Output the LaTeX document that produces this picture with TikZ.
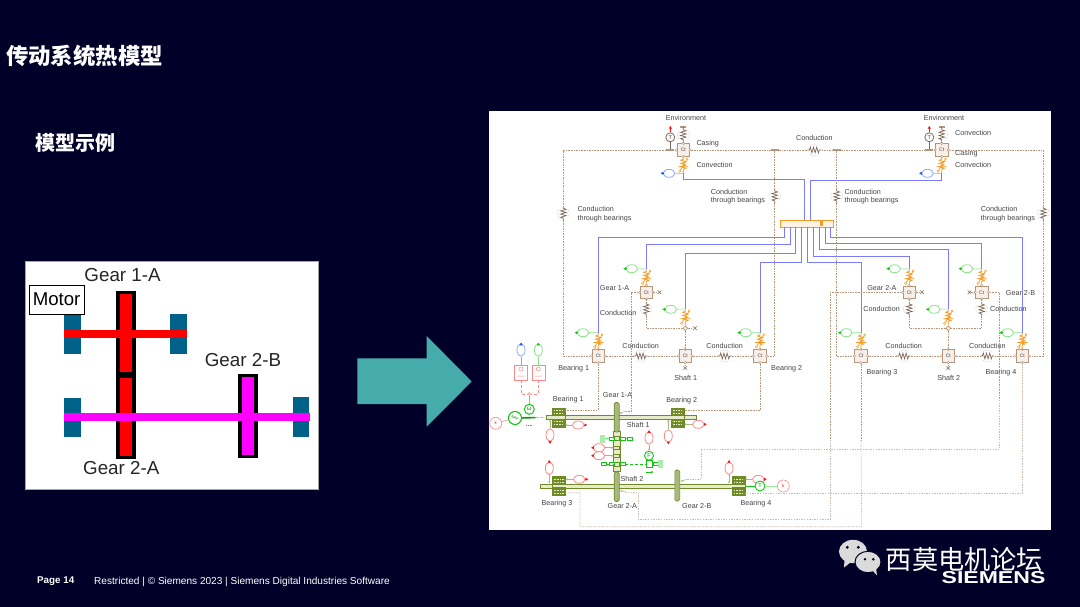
\documentclass[tikz,border=0pt]{standalone}
\usepackage{fontspec}
\setmainfont{Liberation Sans}
\newfontfamily\cjkfont{Noto Sans CJK SC}
\usetikzlibrary{arrows.meta,calc,shapes.geometric,shapes.misc}
\definecolor{slidebg}{HTML}{000028}
\definecolor{arrowteal}{HTML}{45ABAB}
\definecolor{bearingblue}{HTML}{006189}
\definecolor{gearred}{RGB}{255,0,0}
\definecolor{gearmagenta}{RGB}{255,0,255}
\definecolor{condbrown}{HTML}{B5957C}
\definecolor{condfaint}{HTML}{CDBCAE}
\definecolor{cellfill}{HTML}{F8F0E8}
\definecolor{heatblue}{HTML}{7C7CFA}
\definecolor{convorange}{HTML}{F59A23}
\definecolor{mecholive}{HTML}{6F8A26}
\definecolor{mechpale}{HTML}{E6ECCB}
\definecolor{flowgreen}{HTML}{12C912}
\definecolor{flowblue}{HTML}{1A55FF}
\definecolor{flowred}{HTML}{FF1111}
\definecolor{labelgrey}{HTML}{444444}
\tikzset{
	lbl/.style={text=labelgrey,font=\fontsize{7.2}{8.4}\selectfont,inner sep=0,align=left},
	cellnode/.style={draw=condbrown,fill=cellfill,minimum size=12.5,inner sep=0,line width=0.7,font=\fontsize{5}{5}\selectfont,text=labelgrey},
	portnode/.style={circle,draw=condbrown,fill=white,minimum size=2.6,inner sep=0,line width=0.4},
	resnode/.style={minimum width=14,minimum height=6,inner sep=0},
	convnode/.style={minimum width=8,minimum height=16,inner sep=0},
	teebar/.style={fill=condbrown,minimum width=8,minimum height=2.2,inner sep=0},
	capbar/.style={fill=condbrown,minimum width=6,minimum height=1.6,inner sep=0},
	crossend/.style={cross out,draw=condbrown!70!black,minimum size=3,inner sep=0,line width=0.6},
	junct/.style={diamond,draw=condbrown,fill=cellfill,minimum size=5,inner sep=0,line width=0.6},
	condline/.style={condbrown,line width=0.5,dash pattern=on 1.6 off 1},
	condpale/.style={condfaint,line width=0.7,dash pattern=on 1.4 off 1.2},
	heatline/.style={heatblue,line width=0.9},
	ovalh/.style={ellipse,fill=white,minimum width=11.5,minimum height=8,inner sep=0,line width=0.8},
	ovalv/.style={ellipse,fill=white,minimum width=8,minimum height=12.5,inner sep=0,line width=0.8},
	tipline/.style={line width=0.6,-{Latex[length=2.8,width=3.4]}},
	stubline/.style={mecholive!60,line width=0.5,-{Latex[length=2,width=2.4]}},
	shaftbody/.style={draw=mecholive,fill=mechpale,minimum height=4,inner sep=0,line width=0.9},
	gearbody/.style={draw=mecholive,fill=mecholive!60,rounded corners=1.5,minimum width=5,minimum height=29.5,inner sep=0,line width=0.6},
	brgbody/.style={draw=mecholive,fill=mecholive,minimum width=13,minimum height=19,inner sep=0},
	linkbox/.style={draw=mecholive,fill=mechpale,minimum width=6,minimum height=3.6,inner sep=0,line width=0.5},
	greenbox/.style={draw=flowgreen,fill=white,minimum width=5,minimum height=3.2,inner sep=0,line width=0.6},
	hatchbar/.style={fill=flowgreen!35,minimum width=5,minimum height=8,inner sep=0},
	greenring/.style={circle,draw=flowgreen,fill=white,inner sep=0,line width=0.9,text=flowgreen!70!black},
	redring/.style={circle,draw=flowred!50,fill=white,inner sep=0,line width=0.6,minimum size=12,text=flowred,font=\fontsize{4.5}{5}\selectfont},
	redbox/.style={draw=flowred!50,fill=white,minimum width=13,minimum height=15,inner sep=0,line width=0.6},
	cjktitle/.style={text=white,inner sep=0,font=\cjkfont\bfseries},
}
\def\ctcell(#1)(#2){\node[cellnode] (#1) at (#2) {Ct};
	\foreach \a in {north,south,east,west} {\node[portnode] (#1-\a) at (#1.\a) {};}}
\def\thermres(#1)(#2)(#3){\node[resnode,rotate=#3] (#1) at (#2) {};
	\begin{scope}[shift={(#2)},rotate=#3]
		\draw[condbrown!70!black,line width=0.7] (-7,0) -- (-5,0) -- (-4,-2.8) -- (-2.4,2.8) -- (-0.8,-2.8) -- (0.8,2.8) -- (2.4,-2.8) -- (4,2.8) -- (5,0) -- (7,0);
		\draw[condbrown,line width=0.4,densely dotted] (-4,-4.6) .. controls (0,-6.4) .. (4,-4.6) (-4,4.6) .. controls (0,6.4) .. (4,4.6);
	\end{scope}}
\def\convector(#1)(#2){\node[convnode] (#1) at (#2) {};
	\begin{scope}[shift={(#2)}]
		\draw[convorange,line width=0.8] (0,-8) -- (0,-6) -- (-2.5,-5) -- (2.5,-3.4) -- (-2.5,-1.8) -- (2.5,-0.2) -- (-2.5,1.4) -- (2.5,3) -- (0,4) -- (0,8);
		\draw[convorange,line width=0.7] (-5,1.5) -- (5,1.5) (-3.6,6) -- (4,-6.4);
		\draw[convorange,line width=0.4,fill=white] (-3.6,6) circle (1.3) (3.8,-6.4) circle (1);
	\end{scope}}
\def\flowoval(#1)(#2)(#3)(#4)(#5){\node[#3,draw=#5!50] (#1) at (#2) {};
	\draw[#5,tipline] (#1) -- ++(#4);}
\def\bearingblock(#1)(#2){\node[brgbody] (#1) at (#2) {};
	\begin{scope}[shift={(#2)}]
		\fill[mechpale] (-6.5,-1.3) rectangle (6.5,1.3);
		\draw[mechpale,line width=0.9,dash pattern=on 1.6 off 1] (-4.6,-7) -- (4.6,-7) (-4.6,7) -- (4.6,7) (-4.6,-4) -- (4.6,-4) (-4.6,4) -- (4.6,4);
	\end{scope}}

\begin{document}
\begin{tikzpicture}[x=1pt,y=-1pt]
	\useasboundingbox (0,0) rectangle (1080,607);
	\fill[slidebg] (0,0) rectangle (1080,607);

	%%%%% SLIDE TEXT %%%%%
	\node[cjktitle,font=\cjkfont\bfseries\fontsize{22.4}{24}\selectfont] (slideTitle) at (84.5,56) {传动系统热模型};
	\node[cjktitle,font=\cjkfont\bfseries\fontsize{20}{22}\selectfont] (slideSub) at (75,143) {模型示例};
	\node[text=white,inner sep=0,anchor=west,font=\bfseries\fontsize{9.8}{11}\selectfont] (pageNo) at (37,581.5) {Page 14};
	\node[text=white,inner sep=0,anchor=west,font=\fontsize{10.08}{11}\selectfont] (footNote) at (94,581.5) {Restricted | © Siemens 2023 | Siemens Digital Industries Software};

	%%%%% GEARBOX SKETCH %%%%%
	\fill[white,draw=black!35,line width=0.6] (25.3,261.7) rectangle (318.3,489);
	\fill[bearingblue] (64.3,314.3) rectangle (80.7,354.3);
	\fill[bearingblue] (170.3,314.3) rectangle (186.7,354.3);
	\fill[bearingblue] (64.3,397.7) rectangle (80.7,437.3);
	\fill[bearingblue] (293.3,396.7) rectangle (309.3,437.3);

	\fill[black] (116,290.7) rectangle (135.7,375);
	\fill[black] (116,375) rectangle (135.7,459);
	\fill[black] (238.3,373.7) rectangle (258,458.3);
	\fill[gearred] (119.7,294.3) rectangle (132,372.3);
	\fill[gearred] (119.7,378.3) rectangle (132,456);
	\fill[gearmagenta] (242.3,377.3) rectangle (254.3,455);
	\fill[gearred] (64.3,330.3) rectangle (186.7,338.3);
	\fill[gearmagenta] (64.3,413.3) rectangle (310.3,420.7);

	\node[draw=black,fill=white,line width=0.7,minimum width=55.3,minimum height=29.3,inner sep=0,font=\fontsize{18.6}{20}\selectfont] (motorTag) at (56.6,299.6) {Motor};
	\foreach \nm/\pos/\txt in {sketchGearA/{122.6,275.5}/Gear 1-A,sketchGearB/{243,360}/Gear 2-B,sketchGearC/{121.3,468.3}/Gear 2-A} {
		\node[inner sep=0,text=black!85,font=\fontsize{18.8}{20}\selectfont] (\nm) at (\pos) {\txt};
	}

	%%%%% ARROW %%%%%
	\fill[arrowteal] (357.3,358.3) -- (426.7,358.3) -- (426.7,336) -- (471.7,381.5) -- (426.7,426.7) -- (426.7,404) -- (357.3,404) -- cycle;

	%%%%% THERMAL PANEL %%%%%
	\fill[white] (489,111.5) rectangle (1051,529.5);

	\foreach \nm/\pos in {ctCasingL/{683.3,150},ctCasingR/{941.7,150},ctGearA/{646.3,292.3},ctGearB/{909.3,292.3},ctGearC/{981.7,292.3},ctBearA/{598.3,356},ctBearB/{760,356},ctBearC/{861,356},ctBearD/{1022.3,356},ctShaftA/{685.3,356},ctShaftB/{948.3,356}} {
		\ctcell(\nm)(\pos)
	}
	\foreach \nm/\pos/\ang in {resCasingL/{683.3,134.7}/90,resCasingR/{941.7,134.7}/90,resTop/{814.3,150}/0,resThruA/{563.3,213.3}/90,resThruB/{774.7,196}/90,resThruC/{836.7,196}/90,resThruD/{1043.3,213.3}/90,resGearA/{646.3,309}/90,resGearB/{909.3,309}/90,resGearC/{981.7,309}/90,resRowA/{640.7,356}/0,resRowB/{724.7,356}/0,resRowC/{903.7,356}/0,resRowD/{987.3,356}/0} {
		\thermres(\nm)(\pos)(\ang)
	}
	\foreach \nm/\pos in {convCasingL/{683.3,165.2},convCasingR/{941.7,165.2},convGearA/{646.3,277.3},convGearB/{909.3,277.3},convGearC/{981.7,277.3},convShaftA/{685.3,317.3},convShaftB/{948.3,317.3},convBearA/{598.3,341},convBearB/{760,341},convBearC/{861,341},convBearD/{1022.3,341}} {
		\convector(\nm)(\pos)
	}
	\foreach \nm/\pos/\conv/\anc/\col in {ovCasingL/{669,173.3}/convCasingL/south/flowblue,ovCasingR/{927.5,173.3}/convCasingR/south/flowblue,ovGearA/{631.7,268.7}/convGearA/north/flowgreen,ovGearB/{894.7,268.7}/convGearB/north/flowgreen,ovGearC/{967,268.7}/convGearC/north/flowgreen,ovShaftA/{670.7,309.3}/convShaftA/north/flowgreen,ovShaftB/{934.3,309.3}/convShaftB/north/flowgreen,ovBearA/{583,332.7}/convBearA/north/flowgreen,ovBearB/{745.7,332.7}/convBearB/north/flowgreen,ovBearC/{846.3,332.7}/convBearC/north/flowgreen,ovBearD/{1007.7,332.7}/convBearD/north/flowgreen} {
		\flowoval(\nm)(\pos)(ovalh)(-8.5,0)(\col)
		\draw[\col!50,line width=0.6] (\nm) -- (\conv.\anc);
	}

	% sensors and end caps of the thermal loop
	\node[circle,draw=condbrown!70!black,fill=white,minimum size=9,inner sep=0,line width=0.8,font=\fontsize{5.5}{6}\selectfont,text=labelgrey] (tempL) at (670.3,137.3) {T};
	\node[circle,draw=condbrown!70!black,fill=white,minimum size=9,inner sep=0,line width=0.8,font=\fontsize{5.5}{6}\selectfont,text=labelgrey] (tempR) at (929.3,137.3) {T};
	\node[teebar] (teeL) at (670.3,150) {};
	\node[teebar] (teeR) at (929.3,150) {};
	\node[teebar] (teeA) at (774.7,150) {};
	\node[teebar] (teeB) at (836.7,150) {};
	\node[capbar] (capL) at (683.3,127) {};
	\node[capbar] (capR) at (941.7,127) {};
	\node[junct] (junctA) at (685.3,328.3) {};
	\node[junct] (junctB) at (948.3,328.3) {};
	\node[crossend] (endGearA) at (659.5,292.3) {};
	\node[crossend] (endGearB) at (922,292.3) {};
	\node[crossend] (endGearC) at (969.5,292.3) {};
	\node[crossend] (endJunctA) at (695,328.3) {};
	\node[crossend] (endShaftA) at (685.3,368) {};
	\node[crossend] (endShaftB) at (948.3,368) {};
	\coordinate (cornerNW) at (563.3,150);
	\coordinate (cornerSW) at (563.3,356);
	\coordinate (cornerB) at (774.7,356);
	\coordinate (cornerC) at (836.7,356);
	\coordinate (cornerNE) at (1043.3,150);
	\coordinate (cornerSE) at (1043.3,356);
	\coordinate (lowGearA) at (646.3,328.3);
	\coordinate (lowGearB) at (909.3,328.3);
	\coordinate (lowGearC) at (981.7,328.3);

	\draw[tipline,flowred] (tempL) -- ++(0,-11.5);
	\draw[tipline,flowred] (tempR) -- ++(0,-11.5);
	\draw[condbrown!70!black,line width=0.7] (tempL) -- (teeL) (tempR) -- (teeR);
	\draw[condbrown!70!black,line width=0.7] (capL) -- (resCasingL) -- (ctCasingL);
	\draw[condbrown!70!black,line width=0.7] (capR) -- (resCasingR) -- (ctCasingR);
	\draw[condbrown,line width=0.6] (convCasingL) -- (ctCasingL) (convCasingR) -- (ctCasingR);
	\foreach \conv/\cell in {convGearA/ctGearA,convGearB/ctGearB,convGearC/ctGearC,convBearA/ctBearA,convBearB/ctBearB,convBearC/ctBearC,convBearD/ctBearD,convShaftA/junctA,convShaftB/junctB} {
		\draw[condbrown,line width=0.6] (\conv) -- (\cell);
	}
	\draw[condline] (ctCasingL-east) -- (teeA) -- (resTop) -- (teeB) -- (teeR) -- (ctCasingR-west);
	\draw[condline] (ctCasingL-west) -- (teeL) -- (cornerNW) -- (resThruA) -- (cornerSW) -- (ctBearA-west);
	\draw[condline] (ctCasingR-east) -- (cornerNE) -- (resThruD) -- (cornerSE) -- (ctBearD-east);
	\draw[condline] (teeA) -- (resThruB) -- (cornerB) -- (ctBearB-east);
	\draw[condline] (teeB) -- (resThruC) -- (cornerC) -- (ctBearC-west);
	\draw[condline] (ctBearA-east) -- (resRowA) -- (ctShaftA-west);
	\draw[condline] (ctShaftA-east) -- (resRowB) -- (ctBearB-west);
	\draw[condline] (ctBearC-east) -- (resRowC) -- (ctShaftB-west);
	\draw[condline] (ctShaftB-east) -- (resRowD) -- (ctBearD-west);
	\draw[condline] (ctGearA) -- (resGearA) -- (lowGearA) -- (junctA) -- (ctShaftA);
	\draw[condline] (ctGearB) -- (resGearB) -- (lowGearB) -- (junctB) -- (ctShaftB);
	\draw[condline] (ctGearC) -- (resGearC) -- (lowGearC) -- (junctB);
	\draw[condline] (ctGearA) -- (endGearA) (ctGearB) -- (endGearB) (ctGearC) -- (endGearC);
	\draw[condline] (junctA) -- (endJunctA) (ctShaftA) -- (endShaftA) (ctShaftB) -- (endShaftB);

	% heat bus and its taps
	\node[draw=convorange,fill=convorange!12,minimum width=52.6,minimum height=7.3,inner sep=0,line width=0.6] (heatBus) at (807,223.6) {};
	\fill[convorange] (820.2,221) rectangle (823,226.4);
	\foreach \n/\xx in {1/784.3,2/790,3/795.3,4/801.3,5/807.3,6/813.3,7/819.3,8/825,9/830.7} {
		\coordinate (tap\n) at (\xx,227.3);
	}
	\coordinate (busInA) at (804.3,220);
	\coordinate (busInB) at (810,220);
	\coordinate (heatBendL) at (683.3,179.3);
	\coordinate (heatBendR) at (941.7,180);
	\draw[heatline] (convCasingL.south) -- (heatBendL) -| (busInA);
	\draw[heatline] (convCasingR.south) -- (heatBendR) -| (busInB);
	\draw[heatline] (tap1) -- ++(0,10) -| (convBearA.north);
	\draw[heatline] (tap2) -- ++(0,17.2) -| (convGearA.north);
	\draw[heatline] (tap3) -- ++(0,26) -| (convShaftA.north);
	\draw[heatline] (tap4) -- ++(0,35.2) -| (convBearB.north);
	\draw[heatline] (tap5) -- ++(0,35.2) -| (convBearC.north);
	\draw[heatline] (tap6) -- ++(0,28.7) -| (convGearB.north);
	\draw[heatline] (tap7) -- ++(0,22) -| (convShaftB.north);
	\draw[heatline] (tap8) -- ++(0,16) -| (convGearC.north);
	\draw[heatline,line width=1.1] (tap9) -- ++(0,10) -| (convBearD.north);

	%%%%% DRIVE LINE %%%%%
	\node[shaftbody,minimum width=150] (shaftA) at (621.7,417.3) {};
	\node[shaftbody,minimum width=205] (shaftB) at (642.5,486) {};
	\bearingblock(brgA)(558.3,417.3)
	\bearingblock(brgB)(677.7,417.3)
	\bearingblock(brgC)(559,486)
	\bearingblock(brgD)(738.3,486)
	\node[draw=mecholive,fill=mechpale,minimum width=6.5,minimum height=40,inner sep=0,line width=0.8] (linkColumn) at (616.7,451.5) {};
	\node[gearbody] (gearA) at (616.7,417.2) {};
	\node[gearbody] (gearB) at (616.7,486.7) {};
	\node[gearbody,minimum height=31] (gearC) at (677.3,485.5) {};

	\foreach \nm/\pos in {linkA/{616.7,438.3},linkB/{616.7,447.7},linkC/{616.7,455.7},linkD/{616.7,464}} {
		\node[linkbox] (\nm) at (\pos) {};
	}
	\node[greenbox] (gbAa) at (611.5,438.7) {};
	\node[hatchbar] (gbAb) at (602.7,438.7) {};
	\node[greenbox] (gbAc) at (622.3,438.7) {};
	\node[greenbox] (gbAd) at (630,438.7) {};
	\node[greenbox] (gbDa) at (611.5,464) {};
	\node[greenbox] (gbDb) at (604,464) {};
	\node[greenbox] (gbDc) at (622.3,464) {};
	\node[greenbox,line width=1.1,minimum width=6.5,minimum height=6.5] (gbDd) at (649.3,464) {};
	\node[greenbox] (gbDe) at (655.8,464) {};
	\node[hatchbar] (gbDf) at (660.3,464) {};
	\draw[flowgreen,line width=0.7] (gbAb) -- (gbAa) -- (linkA) -- (gbAc) -- (gbAd);
	\draw[flowgreen,line width=0.7] (gbDb) -- (gbDa) -- (linkD) -- (gbDc);
	\draw[flowgreen,line width=0.5,densely dashed] (gbDc) -- (gbDd);
	\draw[flowgreen,line width=0.7] (gbDd) -- (gbDe);
	\node[greenring,minimum size=9,font=\fontsize{5.5}{6}\selectfont] (forceRing) at (649,455.7) {F};
	\draw[flowgreen,line width=0.8] (forceRing) -- (gbDd);
	\coordinate (spanL) at (645.5,472);
	\coordinate (spanR) at (653.5,472);
	\draw[flowgreen,line width=0.7,-{Latex[length=2.2,width=2.6]}] (spanL) -- (spanR);

	\flowoval(ovBrgAv)(550,435)(ovalv)(0,9)(flowred)
	\flowoval(ovBrgAh)(578.3,425)(ovalh)(9,0)(flowred)
	\flowoval(ovBrgBv)(668.3,436)(ovalv)(0,8.5)(flowred)
	\flowoval(ovBrgBh)(698.3,424.3)(ovalh)(8.5,0)(flowred)
	\flowoval(ovBrgCv)(549.3,468.3)(ovalv)(0,-8.5)(flowred)
	\flowoval(ovBrgCh)(579.3,479.3)(ovalh)(9,0)(flowred)
	\flowoval(ovBrgDv)(729,468.3)(ovalv)(0,-8.5)(flowred)
	\flowoval(ovBrgDh)(758.3,479.3)(ovalh)(8.5,0)(flowred)
	\flowoval(ovForce)(649,438)(ovalv)(0,-8)(flowred)
	\flowoval(ovStackA)(599,447.7)(ovalh)(-8,0)(flowred)
	\flowoval(ovStackB)(599,455.7)(ovalh)(-8,0)(flowred)
	\draw[stubline] (ovBrgAv) -- (ovBrgAv |- shaftA.south);
	\draw[stubline] (ovBrgAh) -- (ovBrgAh -| brgA.east);
	\draw[stubline] (ovBrgBv) -- (ovBrgBv |- shaftA.south);
	\draw[stubline] (ovBrgBh) -- (ovBrgBh -| brgB.east);
	\draw[stubline] (ovBrgCv) -- (ovBrgCv |- shaftB.north);
	\draw[stubline] (ovBrgCh) -- (ovBrgCh -| brgC.east);
	\draw[stubline] (ovBrgDv) -- (ovBrgDv |- shaftB.north);
	\draw[stubline] (ovBrgDh) -- (ovBrgDh -| brgD.east);
	\draw[stubline,flowred!50] (ovStackA) -- (linkB);
	\draw[stubline,flowred!50] (ovStackB) -- (linkC);
	\draw[stubline,flowred!50] (ovForce) -- (forceRing);

	% electric drive on the first shaft
	\node[greenring,minimum size=13,line width=1.1,rotate=-30,font=\fontsize{3.6}{4}\selectfont] (motorRing) at (515,418) {MAP};
	\node[redring] (ambientA) at (495.7,423.3) {k};
	\node[greenring,minimum size=10,line width=1,font=\fontsize{6}{6}\selectfont] (speedRing) at (529.3,409.3) {ω};
	\node[redbox] (elecBoxA) at (521,372.3) {};
	\node[redbox] (elecBoxB) at (538.3,372.3) {};
	\draw[flowred!50,line width=0.5] (521,369) circle (2) (538.3,369) circle (2) (517.5,376) -- (524.5,376) (534.8,376) -- (541.8,376);
	\flowoval(ovElecA)(521,350)(ovalv)(0,-7.5)(flowblue)
	\flowoval(ovElecB)(538.3,350)(ovalv)(0,-7.5)(flowgreen)
	\draw[flowblue!50,line width=0.6] (ovElecA) -- (elecBoxA);
	\draw[flowgreen!50,line width=0.6] (ovElecB) -- (elecBoxB);
	\node[circle,draw=flowred!50,fill=white,minimum size=3,inner sep=0,line width=0.5] (elecJoint) at (529.3,394) {};
	\draw[flowred!50,line width=0.5,densely dashed] (elecBoxA) |- (elecJoint);
	\draw[flowred!50,line width=0.5,densely dashed] (elecBoxB) |- (elecJoint);
	\draw[flowred!50,line width=0.6] (elecJoint) -- (speedRing);
	\draw[flowred!50,line width=0.6] (ambientA) -- (motorRing);
	\coordinate (motorEnd) at (535.5,417.6);
	\draw[flowgreen!75!black,line width=1.6] (motorRing) -- (motorEnd);
	\draw[flowgreen!60,line width=0.7,densely dashed] (motorEnd) -- (shaftA.west);
	\coordinate (rateL) at (526,425.7);
	\coordinate (rateR) at (533,425.7);
	\draw[flowgreen,line width=0.8,densely dotted] (rateL) -- (rateR);

	\node[greenring,minimum size=10,font=\fontsize{5.5}{6}\selectfont] (torqueRing) at (760,486) {T};
	\node[redring] (ambientB) at (783.3,486) {k};
	\draw[flowgreen,line width=1] (brgD) -- (torqueRing);
	\draw[flowgreen!40,line width=0.7] (torqueRing) -- (ambientB);

	% faint links from the mechanical ports up to the thermal cells
	\coordinate (gearPortA) at (619.5,413.5);
	\coordinate (gearPortB) at (620,490.5);
	\coordinate (gearPortC) at (680.5,481.5);
	\coordinate (brgPortA) at (565,410);
	\coordinate (brgPortB) at (685,410.7);
	\coordinate (brgPortC) at (565.5,492.7);
	\coordinate (brgPortD) at (745,493.3);
	\coordinate (runA) at (631.5,411);
	\coordinate (runB1) at (830,519.3);
	\coordinate (runB2) at (638.3,519.3);
	\coordinate (runB3) at (638.3,492.5);
	\coordinate (runB4) at (627,492.5);
	\coordinate (runC1) at (999.3,449.3);
	\coordinate (runC2) at (701.7,449.3);
	\coordinate (runC3) at (701.7,479);
	\coordinate (runC4) at (688,479);
	\coordinate (runD1) at (861.7,526.7);
	\coordinate (runD2) at (580,526.7);
	\coordinate (runD3) at (580,492.7);
	\coordinate (runA2) at (626,411);
	\coordinate (runGearA) at (631.5,292.3);
	\coordinate (runGearB) at (830,292.3);
	\coordinate (runGearC) at (999.3,292.3);
	\coordinate (paleGearB) at (830,440);
	\coordinate (paleGearC) at (999.3,400);
	\coordinate (paleBearC) at (861,440);
	\coordinate (paleBearD) at (1022.7,440);
	\draw[condline] (ctGearA-west) -- (runGearA) -- (runA) -- (runA2);
	\draw[stubline] (runA2) -- (gearPortA);
	\draw[condline] (ctBearA-south) |- (brgPortA);
	\draw[condline] (ctBearB-south) |- (brgPortB);
	\draw[condline] (ctGearB-west) -- (runGearB) -- (paleGearB);
	\draw[condpale] (paleGearB) -- (runB1) -- (runB2) -- (runB3) -- (runB4);
	\draw[stubline] (runB4) -- (gearPortB);
	\draw[condline] (ctGearC-east) -- (runGearC) -- (paleGearC);
	\draw[condpale] (paleGearC) -- (runC1) -- (runC2) -- (runC3) -- (runC4);
	\draw[stubline] (runC4) -- (gearPortC);
	\draw[condline] (ctBearC-south) -- (paleBearC);
	\draw[condpale] (paleBearC) -- (runD1) -- (runD2) -- (runD3) -- (brgPortC);
	\draw[condline] (ctBearD-south) -- (paleBearD);
	\draw[condpale] (paleBearD) |- (brgPortD);

	%%%%% LABELS %%%%%
	\foreach \nm/\pos/\txt in {lblEnvL/{686,118}/Environment,lblEnvR/{944,118.3}/Environment,lblCondTop/{814.3,137.7}/Conduction,lblRowA/{640.7,345.7}/Conduction,lblRowB/{724.7,345.7}/Conduction,lblRowC/{903.7,345.7}/Conduction,lblRowD/{987.3,345.7}/Conduction,lblBearA/{573.7,368.3}/Bearing 1,lblBearC/{882,372.3}/Bearing 3,lblBearD/{1001,372.3}/Bearing 4,lblShaftA/{685.7,377.7}/Shaft 1,lblShaftB/{948.7,377.7}/Shaft 2,lblMechBrgA/{568.3,399.3}/Bearing 1,lblMechGearA/{617.5,395}/Gear 1-A,lblMechShaftA/{638.2,425}/Shaft 1,lblMechBrgB/{681.7,401}/Bearing 2,lblMechShaftB/{632,479.3}/Shaft 2,lblMechBrgC/{557,503.3}/Bearing 3,lblMechGearB/{622.3,506.3}/Gear 2-A,lblMechGearC/{696.8,506.3}/Gear 2-B,lblMechBrgD/{756,503.3}/Bearing 4} {
		\node[lbl] (\nm) at (\pos) {\txt};
	}
	\foreach \nm/\pos/\txt in {lblCasingL/{696.3,143.3}/Casing,lblConvL/{696.3,165.3}/Convection,lblConvRa/{955,133.3}/Convection,lblCasingR/{955,153.7}/Casing,lblConvRb/{955,165.3}/Convection,lblGearA/{599.7,288}/Gear 1-A,lblCondGearA/{599.7,313.3}/Conduction,lblBearB/{771,368.3}/Bearing 2,lblCondGearC/{990,309}/Conduction,lblGearC/{1005.7,292.7}/Gear 2-B} {
		\node[lbl,anchor=west] (\nm) at (\pos) {\txt};
	}
	\node[lbl,anchor=east] (lblGearB) at (896.7,288) {Gear 2-A};
	\node[lbl,anchor=east] (lblCondGearB) at (900,309) {Conduction};
	\foreach \nm/\pos in {lblThruA/{577.3,214.2},lblThruB/{710.7,196.5},lblThruC/{844.3,196.5},lblThruD/{980.7,214.2}} {
		\node[lbl,anchor=west] (\nm) at (\pos) {Conduction\\through bearings};
	}

	%%%%% FORUM MARK %%%%%
	\fill[black!14] (853,551.5) ellipse (14 and 11.7);
	\fill[black!14] (844.5,560) -- (844,567.5) -- (851,562) -- cycle;
	\fill[black!14,draw=slidebg,line width=1] (868,562) ellipse (13 and 10.7);
	\fill[black!14] (872,570) -- (877,575.5) -- (876,568) -- cycle;
	\fill[slidebg] (847.3,547.3) circle (1.6) (858.3,547.3) circle (1.6) (865,559.3) circle (1.4) (873.3,559.3) circle (1.4);
	\node[text=white,inner sep=0,font=\cjkfont\fontsize{26.2}{28}\selectfont] (forumName) at (964.5,559.5) {西莫电机论坛};
	\node[text=white,inner sep=0,font=\bfseries\fontsize{17.2}{18}\selectfont] (brandName) at (993.5,578) {\scalebox{1.34}[1]{SIEMENS}};
\end{tikzpicture}
\end{document}
